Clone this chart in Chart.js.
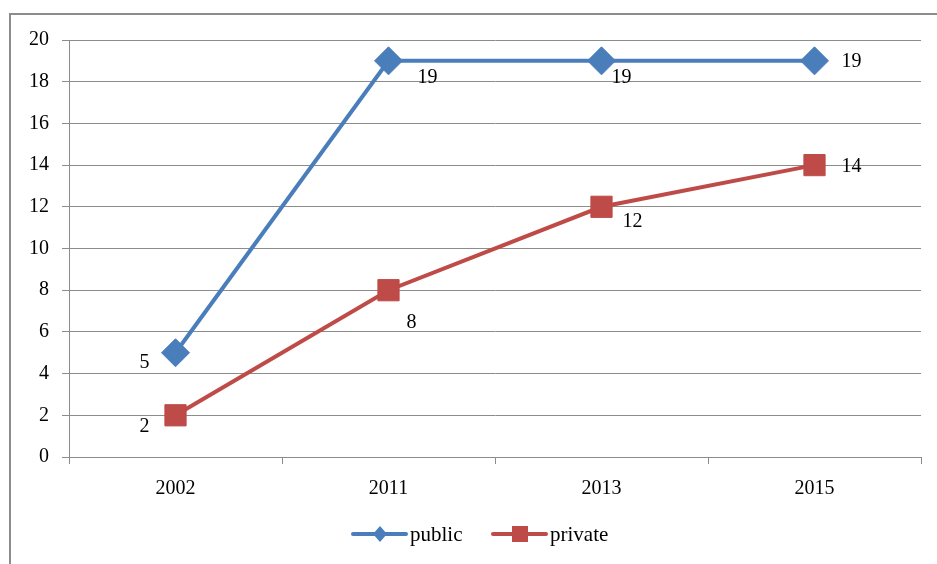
<!DOCTYPE html>
<html>
<head>
<meta charset="utf-8">
<script src="https://cdn.jsdelivr.net/npm/chart.js@4/dist/chart.umd.min.js"></script>
<style>
  html, body { margin: 0; padding: 0; background: #fff; }
  #wrap { position: relative; width: 937px; height: 564px; }
</style>
</head>
<body>
<div id="wrap"><canvas id="myChart" width="937" height="564"></canvas></div>
<script>
// chart data
var years = ['2002', '2011', '2013', '2015'];
var publicVals = [5, 19, 19, 19];
var privateVals = [2, 8, 12, 14];
var yTicks = [0, 2, 4, 6, 8, 10, 12, 14, 16, 18, 20];

// where each value label sits relative to its point (dx, dy)
var publicLabelPos = [[-31, 10], [39, 17], [20, 17], [37, 1]];
var privateLabelPos = [[-31, 11], [23, 33], [31, 15], [37, 2]];

var serif = '"Liberation Serif", "Times New Roman", serif';
var blue = '#4a7ebb';
var red = '#be4b48';

// frame, value labels and the office-style legend
var extras = {
    id: 'extras',
    beforeDraw: function(chart) {
        var c = chart.ctx;
        c.save();
        c.fillStyle = '#fff';
        c.fillRect(0, 0, chart.width, chart.height);
        c.strokeStyle = '#8c8c8c';
        c.lineWidth = 2;
        c.strokeRect(10, 14, 1000, 700);
        c.restore();
    },
    afterDatasetsDraw: function(chart) {
        var c = chart.ctx;
        c.save();
        c.font = '20px ' + serif;
        c.fillStyle = '#000';
        c.textAlign = 'center';
        c.textBaseline = 'middle';
        [publicLabelPos, privateLabelPos].forEach(function(pos, di) {
            var meta = chart.getDatasetMeta(di);
            meta.data.forEach(function(pt, i) {
                var v = chart.data.datasets[di].data[i];
                c.fillText(String(v), pt.x + pos[i][0], pt.y + pos[i][1]);
            });
        });

        // legend
        var items = [
            { text: 'public', color: blue, shape: 'diamond', x: 353 },
            { text: 'private', color: red, shape: 'square', x: 493 }
        ];
        var ly = 534;
        items.forEach(function(it) {
            c.strokeStyle = it.color;
            c.lineWidth = 4;
            c.lineCap = 'round';
            c.beginPath();
            c.moveTo(it.x, ly);
            c.lineTo(it.x + 53, ly);
            c.stroke();
            c.fillStyle = it.color;
            var mx = it.x + 27;
            if (it.shape === 'diamond') {
                c.beginPath();
                c.moveTo(mx, ly - 8);
                c.lineTo(mx + 7, ly);
                c.lineTo(mx, ly + 8);
                c.lineTo(mx - 7, ly);
                c.closePath();
                c.fill();
            } else {
                c.fillRect(mx - 8, ly - 8, 16, 16);
            }
            c.fillStyle = '#000';
            c.textAlign = 'left';
            c.font = '21px ' + serif;
            c.fillText(it.text, it.x + 57, ly + 1);
        });
        c.restore();
    }
};

var ctx = document.getElementById('myChart').getContext('2d');
var chart = new Chart(ctx, {
    type: 'line',
    data: {
        labels: years,
        datasets: [{
            label: 'public',
            data: publicVals,
            borderColor: blue,
            backgroundColor: blue,
            borderWidth: 4,
            pointStyle: 'rectRot',
            pointRadius: 14,
            pointHoverRadius: 14,
            pointBorderWidth: 1,
            tension: 0
        }, {
            label: 'private',
            data: privateVals,
            borderColor: red,
            backgroundColor: red,
            borderWidth: 4,
            pointStyle: 'rect',
            pointRadius: 15,
            pointHoverRadius: 15,
            pointBorderWidth: 1,
            tension: 0
        }]
    },
    options: {
        responsive: false,
        animation: false,
        layout: { padding: { top: 40, right: 15, left: 0, bottom: 0 } },
        plugins: {
            legend: { display: false },
            tooltip: { enabled: false }
        },
        scales: {
            x: {
                offset: true,
                grid: {
                    offset: true,
                    drawOnChartArea: false,
                    drawTicks: true,
                    tickLength: 7,
                    color: '#8c8c8c'
                },
                border: { color: '#8c8c8c', width: 1 },
                ticks: {
                    color: '#000',
                    font: { family: serif, size: 20 },
                    padding: 13
                },
                afterFit: function(scale) { scale.height = 107; }
            },
            y: {
                min: 0,
                max: 20,
                afterBuildTicks: function(scale) {
                    scale.ticks = yTicks.map(function(v) { return { value: v }; });
                },
                grid: {
                    color: '#8c8c8c',
                    tickLength: 7
                },
                border: { color: '#8c8c8c', width: 1 },
                ticks: {
                    color: '#000',
                    font: { family: serif, size: 20 },
                    padding: 13
                },
                afterFit: function(scale) { scale.width = 69; }
            }
        }
    },
    plugins: [extras]
});
</script>
</body>
</html>
